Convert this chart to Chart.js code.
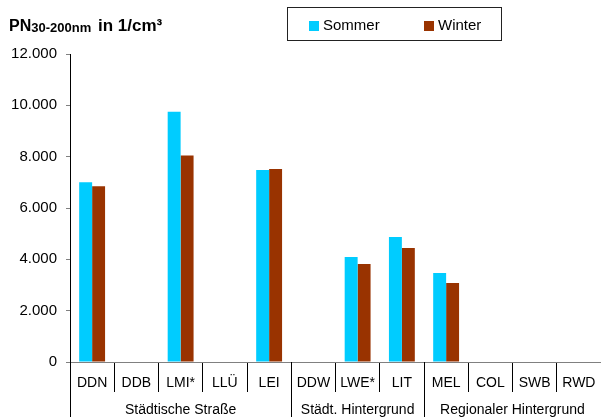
<!DOCTYPE html>
<html>
<head>
<meta charset="utf-8">
<script src="https://cdn.jsdelivr.net/npm/chart.js@4"></script>
<style>
  body { margin: 0; background: #fff; }
  #wrap { width: 601px; height: 417px; }
</style>
</head>
<body>
<div id="wrap"><canvas id="myChart" width="601" height="417"></canvas></div>
<script>
// Messstationen
const stations = ['DDN', 'DDB', 'LMI*', 'LLÜ', 'LEI', 'DDW', 'LWE*', 'LIT', 'MEL', 'COL', 'SWB', 'RWD'];
// Partikelanzahl 30-200 nm, Mittelwerte in 1/cm³
const sommer = [7000, null, 9750, null, 7480, null, 4090, 4870, 3470, null, null, null];
const winter = [6850, null, 8050, null, 7520, null, 3820, 4440, 3080, null, null, null];
// Stationstypen: Name, erster und letzter Index
const groupNames = ['Städtische Straße', 'Städt. Hintergrund', 'Regionaler Hintergrund'];
const groupFrom = [0, 5, 8];
const groupTo = [4, 7, 11];
const yTicks = [0, 2000, 4000, 6000, 8000, 10000, 12000];

const cyan = '#00ccff';
const brown = '#993300';
const fam = '"Liberation Sans", Arial, sans-serif';

Chart.defaults.font.family = fam;
Chart.defaults.color = '#000';

// Titel, Legende mit Rahmen und Gruppenzeile unter der x-Achse
const extras = {
    id: 'extras',
    afterDraw (chart) {
        const ctx = chart.ctx;
        const x = chart.scales.x;
        ctx.save();

        // Titel
        ctx.fillStyle = '#000';
        ctx.textBaseline = 'alphabetic';
        ctx.textAlign = 'left';
        let tx = 9;
        ctx.font = 'bold 16px ' + fam;
        ctx.fillText('PN', tx, 31);
        tx += ctx.measureText('PN').width;
        ctx.font = 'bold 13px ' + fam;
        ctx.fillText('30-200nm', tx, 32);
        tx += ctx.measureText('30-200nm').width;
        ctx.font = 'bold 17px ' + fam;
        ctx.fillText(' in 1/cm³', tx + 2, 31);

        // Legende
        ctx.strokeStyle = '#222';
        ctx.lineWidth = 1;
        ctx.strokeRect(287.5, 7.5, 214, 33);
        const items = chart.data.datasets;
        const lx = [309, 424];
        ctx.font = '15px ' + fam;
        ctx.textBaseline = 'middle';
        items.forEach((ds, i) => {
            ctx.fillStyle = ds.backgroundColor;
            ctx.fillRect(lx[i], 21, 10, 10);
            ctx.fillStyle = '#000';
            ctx.fillText(ds.label, lx[i] + 14, 26);
        });

        // Gruppentrenner und Gruppennamen
        const bottom = chart.height;
        ctx.strokeStyle = '#000';
        ctx.beginPath();
        groupFrom.forEach(f => {
            const px = Math.round(x.getPixelForValue(f - 0.5)) + 0.5;
            ctx.moveTo(px, x.top);
            ctx.lineTo(px, bottom);
        });
        ctx.stroke();

        ctx.font = '14px ' + fam;
        ctx.textAlign = 'center';
        groupNames.forEach((name, i) => {
            const cx = (x.getPixelForValue(groupFrom[i] - 0.5) + x.getPixelForValue(groupTo[i] + 0.5)) / 2;
            ctx.fillText(name, cx, 410);
        });
        ctx.restore();
    }
};

const ctx = document.getElementById('myChart').getContext('2d');
const myChart = new Chart(ctx, {
    type: 'bar',
    data: {
        labels: stations,
        datasets: [
            { label: 'Sommer', data: sommer, backgroundColor: cyan },
            { label: 'Winter', data: winter, backgroundColor: brown }
        ]
    },
    options: {
        responsive: false,
        animation: false,
        layout: { padding: { top: 54, right: -4, left: 0, bottom: 0 } },
        datasets: {
            bar: { barPercentage: 1, categoryPercentage: 0.585 }
        },
        plugins: {
            legend: { display: false },
            tooltip: { enabled: false }
        },
        scales: {
            x: {
                afterFit (scale) { scale.height = 55; },
                border: { color: '#808080', width: 1 },
                grid: { offset: true, drawOnChartArea: false, tickLength: 30, color: '#000' },
                ticks: { font: { size: 14 }, padding: -17, color: '#000' }
            },
            y: {
                min: 0,
                max: 12000,
                afterFit (scale) { scale.width = 70; },
                afterBuildTicks (scale) { scale.ticks = yTicks.map(v => ({ value: v })); },
                border: { color: '#000', width: 1 },
                grid: { drawOnChartArea: false, tickLength: 4, color: '#808080' },
                ticks: {
                    font: { size: 15 },
                    padding: 9,
                    color: '#000',
                    callback: v => v.toLocaleString('de-DE')
                }
            }
        }
    },
    plugins: [extras]
});
</script>
</body>
</html>
